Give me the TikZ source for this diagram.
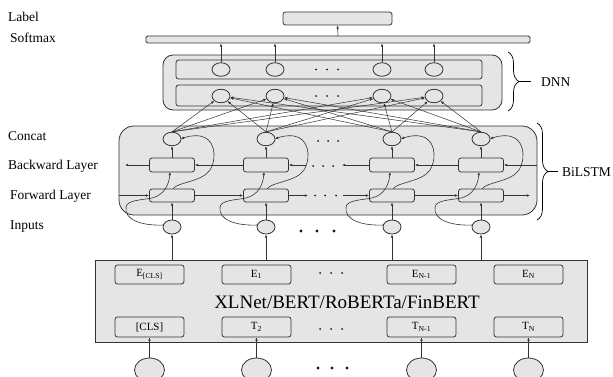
\documentclass[tikz,border=0pt]{standalone}
\usepackage{fontspec}
\setmainfont{Liberation Serif}
\usetikzlibrary{arrows.meta,shapes.geometric,decorations.pathreplacing}
\begin{document}
\begin{tikzpicture}[x=1pt,y=-1pt,
  bx/.style={draw=black!80,fill=black!10,line width=0.8pt},
  rbox/.style={bx,rectangle,rounded corners=2.5pt,inner sep=0pt},
  ell/.style={bx,ellipse,inner sep=0pt,minimum width=18pt,minimum height=13.5pt},
  arr/.style={draw=black!80,line width=0.6pt,-{Latex[length=3.2pt,width=2.6pt]}},
  ln/.style={draw=black!80,line width=0.6pt},
  lbl/.style={font=\fontsize{13.5}{15}\selectfont,anchor=west,inner sep=0pt},
  small/.style={font=\fontsize{11}{12}\selectfont},
  dotsm/.style={fill=black!90},
]
\useasboundingbox (0,0) rectangle (613,377);

% left labels
\node[lbl] (tLabel) at (8,17) {Label};
\node[lbl] (tSoft) at (10,38) {Softmax};
\node[lbl] (tConcat) at (8,136) {Concat};
\node[lbl] (tBack) at (8,166) {Backward Layer};
\node[lbl] (tFwd) at (10,196) {Forward Layer};
\node[lbl] (tIn) at (10,227) {Inputs};

% top
\node[rbox,minimum width=109pt,minimum height=13pt] (labelbox) at (337.5,18.5) {};
\node[rbox,rounded corners=1.5pt,minimum width=384pt,minimum height=7pt] (softmax) at (338,39.5) {};
\draw[arr] (softmax.north) -- (labelbox.south);

% DNN
\draw[bx,rounded corners=10pt] (163,55) rectangle (502,110);
\node[rbox,minimum width=306pt,minimum height=19pt] (row1) at (329,69.5) {};
\node[rbox,minimum width=306pt,minimum height=21pt] (row2) at (329,95.5) {};
\foreach \n/\x in {1/221,2/275,3/382,4/434}{
  \node[ell] (u\n) at (\x,69.5) {};
  \node[ell] (d\n) at (\x,96) {};
  \draw[arr] (u\n.north) -- (u\n.north |- softmax.south);
}
\foreach \x in {316,327,338}{
  \fill[dotsm] (\x,69.5) circle (1pt);
  \fill[dotsm] (\x,96) circle (1pt);
}
\draw[line width=0.7pt,decorate,decoration={brace,amplitude=11pt}] (508,52) -- (508,111);
\draw[line width=0.7pt] (519,81.5) -- (531,81.5);
\node[lbl] (tDNN) at (541,82) {DNN};

% BiLSTM
\draw[bx,rounded corners=15pt] (119,126) rectangle (537,215);
\foreach \n/\x in {1/172,2/266,3/392,4/481}{
  \node[ell] (c\n) at (\x,139) {};
  \node[rbox,minimum width=45pt,minimum height=14pt] (b\n) at (\x,165) {};
  \node[rbox,minimum width=45pt,minimum height=13pt] (f\n) at (\x,195.5) {};
  \node[ell,minimum height=14pt] (i\n) at (\x,227) {};
  \draw[arr] (i\n.north) -- (f\n.south);
  \draw[arr] (b\n.north) -- (c\n.south);
  \draw[arr] (\x-8,225) .. controls (\x-30,226) and (\x-48,220) .. (\x-46,207)
     .. controls (\x-45,200) and (\x-30,200) .. (\x-20,198)
     .. controls (\x-8,195) and (\x-3,185) .. (\x-2,172);
  \draw[arr] (\x+1,189) .. controls (\x+5,182) and (\x+30,182) .. (\x+38,170)
     .. controls (\x+46,156) and (\x+42,138) .. (\x+28,136)
     .. controls (\x+20,135) and (\x+14,137) .. (\x+9,139);
}
% forward row
\coordinate (fL) at (119,195.5);
\coordinate (fD1) at (308,195.5);
\coordinate (fD2) at (343,195.5);
\coordinate (fR) at (530,195.5);
\draw[arr] (fL) -- (f1.west);
\draw[arr] (f1.east) -- (f2.west);
\draw[arr] (f2.east) -- (fD1);
\draw[arr] (fD2) -- (f3.west);
\draw[arr] (f3.east) -- (f4.west);
\draw[arr] (f4.east) -- (fR);
% backward row
\coordinate (bR) at (537,165);
\coordinate (bD1) at (342,165);
\coordinate (bD2) at (306,165);
\coordinate (bL) at (125,165);
\draw[arr] (bR) -- (b4.east);
\draw[arr] (b4.west) -- (b3.east);
\draw[arr] (b3.west) -- (bD1);
\draw[arr] (bD2) -- (b2.east);
\draw[arr] (b2.west) -- (b1.east);
\draw[arr] (b1.west) -- (bL);
\foreach \x in {315,325,336}{\fill[dotsm] (\x,195.5) circle (1pt);}
\foreach \x in {313,323,333}{\fill[dotsm] (\x,166) circle (1pt);}
\foreach \x in {318,328,338}{\fill[dotsm] (\x,141) circle (1pt);}
\foreach \x in {301,317,334}{\fill[dotsm] (\x,231) circle (1.7pt);}
\draw[line width=0.7pt,decorate,decoration={brace,amplitude=11pt}] (537,123) -- (537,220);
\draw[line width=0.7pt] (548,171.5) -- (558,171.5);
\node[lbl] (tBi) at (562,172) {BiLSTM};

% concat -> DNN
\foreach \a in {1,2,3,4}{
  \foreach \b in {1,2,3,4}{
    \draw[arr,line width=0.5pt] (c\a.north) -- (d\b);
  }
}

% BERT
\node[bx,rectangle,minimum width=492pt,minimum height=82pt,inner sep=0pt] (bert) at (341,301) {};
\node[font=\fontsize{19}{21}\selectfont,anchor=base,inner sep=0pt] (berttext) at (347,308.5) {XLNet/BERT/RoBERTa/FinBERT};
\foreach \n/\x/\e/\t in {1/149.5/E\textsubscript{[CLS]}/[CLS],2/256.5/E\textsubscript{1}/T\textsubscript{2},3/421.5/E\textsubscript{N-1}/T\textsubscript{N-1},4/528.5/E\textsubscript{N}/T\textsubscript{N}}{
  \node[rbox,small,minimum width=69pt,minimum height=19pt] (e\n) at (\x,274.5) {\e};
  \node[rbox,small,minimum width=69pt,minimum height=20pt] (t\n) at (\x,327) {\t};
  \node[ell,minimum width=30pt,minimum height=24pt] (w\n) at (\x,370) {};
  \draw[arr] (w\n.north) -- (t\n.south);
}
\foreach \n in {1,2,3,4}{
  \draw[arr] (i\n.south |- bert.north) -- (i\n.south);
}
\foreach \x in {320,331,342}{
  \fill[dotsm] (\x,273) circle (1pt);
  \fill[dotsm] (\x,329) circle (1pt);
}
\foreach \x in {318,332,347}{\fill[dotsm] (\x,368) circle (1.7pt);}
\end{tikzpicture}
\end{document}
